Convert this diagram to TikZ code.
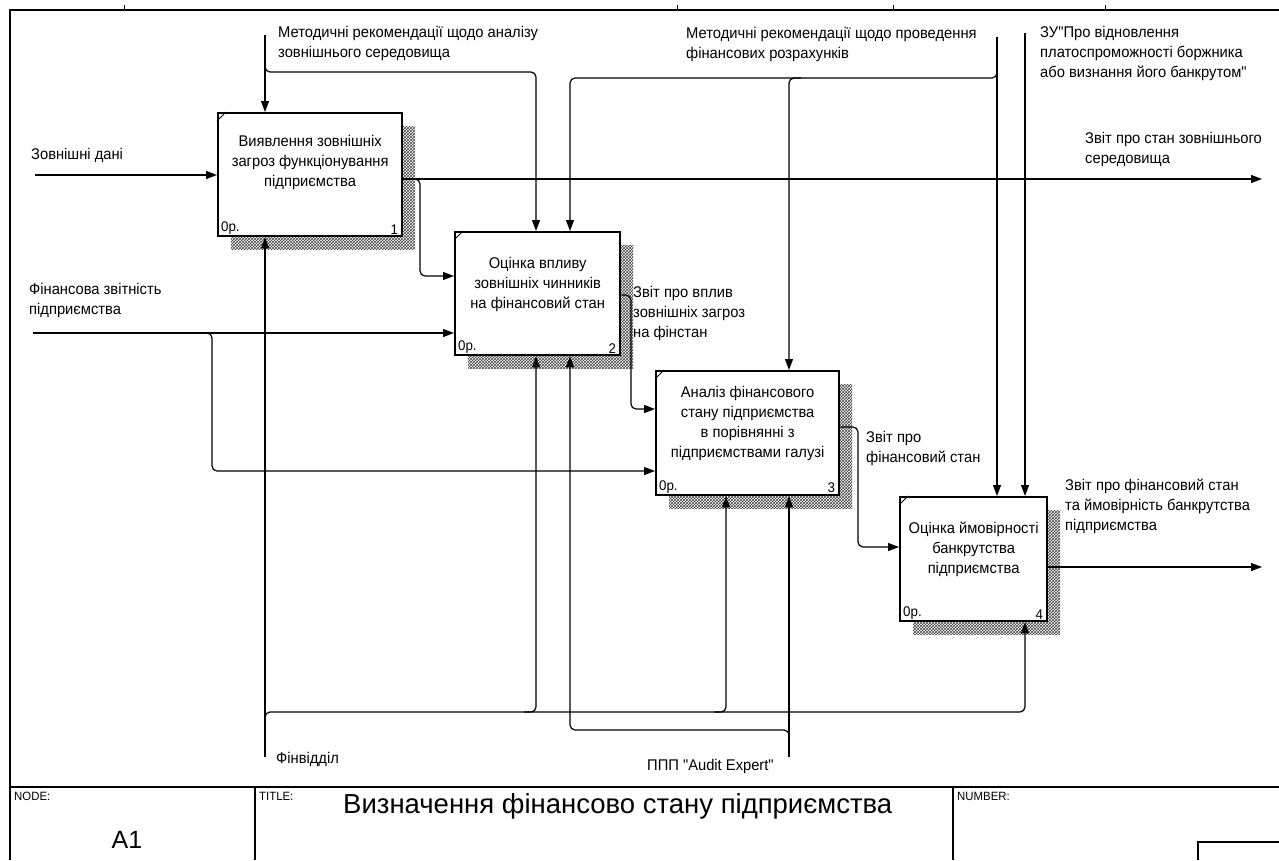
\documentclass[tikz,border=0pt]{standalone}
\usepackage{fontspec}
\setmainfont{Liberation Sans}
\newfontfamily\lblfont[FakeStretch=0.95]{Liberation Sans}
\usetikzlibrary{arrows.meta,patterns,calc,shadows}
\begin{document}
\begin{tikzpicture}[x=1pt,y=-1pt,
  frame/.style={line width=1.3pt},
  fbox/.style={draw, line width=2.3pt, fill=white, inner sep=0pt, anchor=north west,
    general shadow={shadow xshift=13pt, shadow yshift=-13pt, pattern=crosshatch, pattern color=black!75}},
  arr/.style={line width=1.2pt, rounded corners=5pt, -{Triangle[length=11pt,width=8pt]}},
  lbl/.style={font=\lblfont\fontsize{15.5}{20}\selectfont, align=left, inner sep=0pt, anchor=west},
  btxt/.style={font=\lblfont\fontsize{15.5}{20}\selectfont, align=center, inner sep=0pt},
  corner/.style={font=\lblfont\fontsize{14}{15}\selectfont, inner sep=0pt},
  small/.style={font=\lblfont\fontsize{12}{14}\selectfont, inner sep=0pt, anchor=north west}]
\useasboundingbox (0,0) rectangle (1279,860);
% frame
\draw[frame] (1279,10) -- (10,10) -- (10,860);
\draw[frame] (10,787) -- (1279,787);
\draw[frame] (255,787) -- (255,860);
\draw[frame] (953,787) -- (953,860);
\draw[frame] (1279,842) -- (1198,842) -- (1198,860);
\foreach \tx in {124,677,893,1105} \draw[line width=0.8pt] (\tx,5) -- (\tx,10);
% boxes
\node[fbox, minimum width=184pt, minimum height=123pt] (b1) at (217,112) {};
\node[fbox, minimum width=165pt, minimum height=123pt] (b2) at (454,231) {};
\node[fbox, minimum width=183pt, minimum height=124pt] (b3) at (655,370) {};
\node[fbox, minimum width=147pt, minimum height=124pt] (b4) at (899,496) {};
\foreach \b in {b1,b2,b3,b4} \draw[line width=0.8pt] ($(\b.north west)+(0,9)$) -- ($(\b.north west)+(9,0)$);
\node[btxt] (t1) at ($(b1.center)+(0,-12)$) {Виявлення зовнішніх\\загроз функціонування\\підприємства};
\node[btxt] (t2) at ($(b2.center)+(0,-9)$) {Оцінка впливу\\зовнішніх чинників\\на фінансовий стан};
\node[btxt] (t3) at ($(b3.center)+(0,-10)$) {Аналіз фінансового\\стану підприємства\\в порівнянні з\\підприємствами галузі};
\node[btxt] (t4) at ($(b4.center)+(0,-10)$) {Оцінка ймовірності\\банкрутства\\підприємства};
\foreach \b/\n in {b1/1,b2/2,b3/3,b4/4}{
  \node[corner, anchor=south west] (\b o) at ($(\b.south west)+(4,-3)$) {0р.};
  \node[corner, anchor=south east] (\b n) at ($(\b.south east)+(-5,-3)$) {\n};
}
% controls
\coordinate (c1) at (265,35); \coordinate (c1j) at (265,72);
\draw[arr] (c1) -- ($(b1.north west)+(48,0)$);
\draw[arr] ($(c1j)+(0,-12)$) -- (c1j) -| ($(b2.north west)+(82,0)$);
\coordinate (c2) at (997,37); \coordinate (c2j) at (997,78); \coordinate (c2k) at (801,78);
\draw[arr] (c2) -- ($(b4.north west)+(98,0)$);
\draw[arr] ($(c2j)+(0,-12)$) -- (c2j) -| ($(b2.north west)+(116,0)$);
\draw[arr] (c2k) -| ($(b3.north west)+(134,0)$);
\coordinate (c3) at (1025,33);
\draw[arr] (c3) -- ($(b4.north west)+(126,0)$);
% inputs
\coordinate (i1) at (35,175);
\draw[arr] (i1) -- ($(b1.north west)+(0,63)$);
\coordinate (i2) at (33,333); \coordinate (i2j) at (212,333);
\draw[arr] (i2) -- ($(b2.north west)+(0,102)$);
\draw[arr] ($(i2j)+(-12,0)$) -- (i2j) |- ($(b3.north west)+(0,101)$);
% outputs
\coordinate (o1) at (1262,179); \coordinate (o1j) at (420,179);
\draw[arr] ($(b1.north east)+(0,67)$) -- (o1);
\draw[arr] ($(o1j)+(-12,0)$) -- (o1j) |- ($(b2.north west)+(0,45)$);
\coordinate (o2j) at (631,295);
\draw[arr] ($(b2.north east)+(0,64)$) -- (o2j) |- ($(b3.north west)+(0,39)$);
\coordinate (o3j) at (858,427);
\draw[arr] ($(b3.north east)+(0,57)$) -- (o3j) |- ($(b4.north west)+(0,51)$);
\coordinate (o4) at (1262,567);
\draw[arr] ($(b4.north east)+(0,71)$) -- (o4);
% mechanisms
\coordinate (m1) at (265,757); \coordinate (m1j) at (265,712);
\coordinate (m1a) at (524,712); \coordinate (m1b) at (714,712);
\draw[arr] (m1) -- ($(b1.south west)+(48,0)$);
\draw[arr] ($(m1j)+(0,10)$) -- (m1j) -| ($(b4.south west)+(126,0)$);
\draw[arr] (m1a) -| ($(b2.south west)+(82,0)$);
\draw[arr] (m1b) -| ($(b3.south west)+(71,0)$);
\coordinate (m2) at (789,757); \coordinate (m2j) at (789,730);
\draw[arr] (m2) -- ($(b3.south west)+(134,0)$);
\draw[arr] ($(m2j)+(0,12)$) -- (m2j) -| ($(b2.south west)+(116,0)$);
% labels
\node[lbl] (l1) at (278,43) {Методичні рекомендації щодо аналізу\\зовнішнього середовища};
\node[lbl] (l2) at (686,44) {Методичні рекомендації щодо проведення\\фінансових розрахунків};
\node[lbl] (l3) at (1040,53) {ЗУ"Про відновлення\\платоспроможності боржника\\або визнання його банкрутом"};
\node[lbl] (l4) at (1085,149) {Звіт про стан зовнішнього\\середовища};
\node[lbl] (l5) at (31,155) {Зовнішні дані};
\node[lbl] (l6) at (29,300) {Фінансова звітність\\підприємства};
\node[lbl] (l7) at (633,313) {Звіт про вплив\\зовнішніх загроз\\на фінстан};
\node[lbl] (l8) at (866,448) {Звіт про\\фінансовий стан};
\node[lbl] (l9) at (1065,506) {Звіт про фінансовий стан\\та ймовірність банкрутства\\підприємства};
\node[lbl] (l10) at (276,759) {Фінвідділ};
\node[lbl] (l11) at (647,766) {ППП "Audit Expert"};
% title block
\node[small] (nd) at (14,792) {NODE:};
\node[small] (tt) at (259,792) {TITLE:};
\node[small] (nb) at (957,792) {NUMBER:};
\node[font=\fontsize{25}{28}\selectfont, inner sep=0pt] (a1) at (127,840) {A1};
\node[font=\fontsize{27.5}{30}\selectfont, inner sep=0pt, anchor=west] (ttl) at (343,806) {Визначення фінансово стану підприємства};
\end{tikzpicture}
\end{document}
